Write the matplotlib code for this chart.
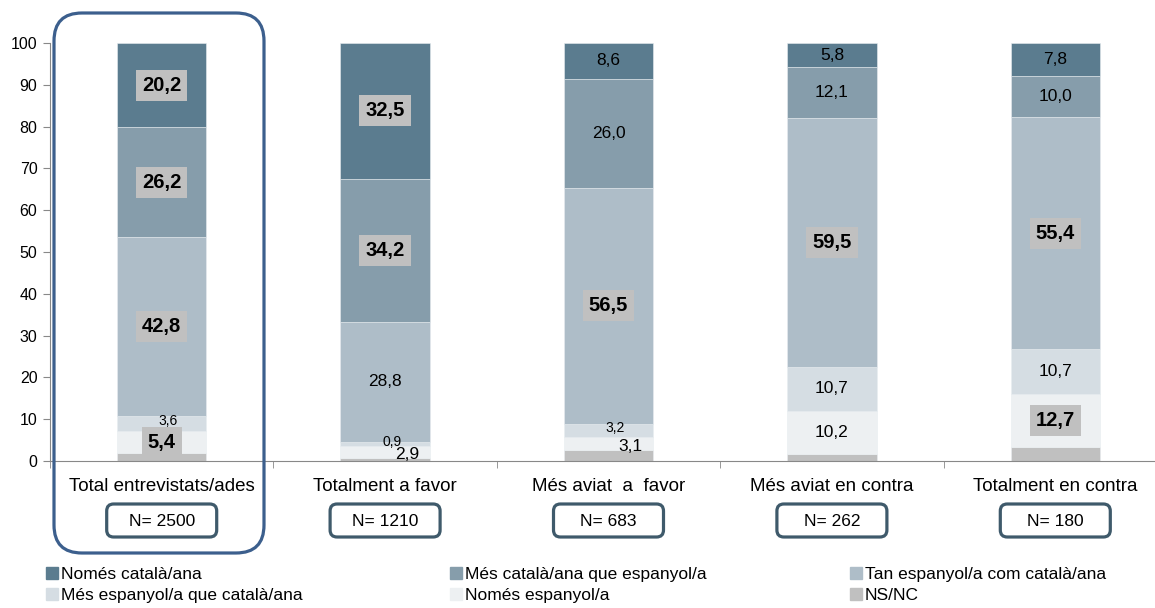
import matplotlib
matplotlib.use('Agg')
import matplotlib.pyplot as plt
import matplotlib.transforms as mtransforms
from matplotlib.patches import FancyBboxPatch, Patch
import numpy as np

plt.rcParams['font.family'] = ['Liberation Sans', 'DejaVu Sans']

# ----------------------------------------------------
# Dades
# ----------------------------------------------------
categories = ['Total entrevistats/ades', 'Totalment a favor', 'Més aviat  a  favor',
              'Més aviat en contra', 'Totalment en contra']
n_values = [2500, 1210, 683, 262, 180]

# de baix a dalt
series_names = ['NS/NC', 'Només espanyol/a', 'Més espanyol/a que català/ana',
                'Tan espanyol/a com català/ana', 'Més català/ana que espanyol/a',
                'Només català/ana']
ns_nc = [1.8, 0.7, 2.6, 1.7, 3.4]
nomes_esp = [5.4, 2.9, 3.1, 10.2, 12.7]
mes_esp = [3.6, 0.9, 3.2, 10.7, 10.7]
tan = [42.8, 28.8, 56.5, 59.5, 55.4]
mes_cat = [26.2, 34.2, 26.0, 12.1, 10.0]
nomes_cat = [20.2, 32.5, 8.6, 5.8, 7.8]

# etiquetes destacades (negreta amb fons gris)
bold_nomes_esp = [True, False, False, False, True]
bold_mes_esp = [False, False, False, False, False]
bold_tan = [True, False, True, True, True]
bold_mes_cat = [True, True, False, False, False]
bold_nomes_cat = [True, True, False, False, False]

colors = ['#c0c0c0', '#edf0f2', '#d5dde3', '#aebdc8', '#869dab', '#5b7c8f']

# ----------------------------------------------------
# Figura
# ----------------------------------------------------
W, H = 1155, 608
fig = plt.figure(figsize=(W / 100, H / 100), dpi=100)
ax = fig.add_axes([50 / W, 147 / H, 1117 / W, 418 / H])

x = np.arange(len(categories))
values = [ns_nc, nomes_esp, mes_esp, tan, mes_cat, nomes_cat]
bold_flags = [None, bold_nomes_esp, bold_mes_esp, bold_tan, bold_mes_cat, bold_nomes_cat]

bottom = np.zeros(len(categories))
for k, (vals, col) in enumerate(zip(values, colors)):
    vals = np.array(vals)
    ax.bar(x, vals, 0.40, bottom=bottom, color=col, edgecolor='#e8edf0', linewidth=0.4)
    if bold_flags[k] is not None:
        for i, v in enumerate(vals):
            ymid = bottom[i] + v / 2
            txt = f'{v:.1f}'.replace('.', ',')
            if bold_flags[k][i]:
                ax.text(x[i], ymid, txt, ha='center', va='center', fontsize=14.5,
                        fontweight='bold',
                        bbox=dict(boxstyle='square,pad=0.3', fc='#c0c0c0', ec='none'))
            elif v < 5:
                # segments petits
                if k == 2:
                    ax.text(x[i] + 0.03, ymid + 0.6, txt, ha='center', va='center', fontsize=10)
                else:
                    ax.text(x[i] + 0.1, ymid - 0.6, txt, ha='center', va='center', fontsize=12.5)
            else:
                ax.text(x[i], ymid, txt, ha='center', va='center', fontsize=12.5)
    bottom += vals

ax.set_xlim(-0.5, len(categories) - 0.5)
ax.set_ylim(0, 100)
ax.set_yticks(np.arange(0, 101, 10))
ax.set_xticks(x)
ax.set_xticklabels(categories, fontsize=13.5)
ax.set_xticks(np.arange(-0.5, len(categories), 1), minor=True)
ax.tick_params(axis='x', which='major', length=0, pad=12)
ax.tick_params(axis='x', which='minor', length=5, color='#888888', direction='out')
ax.tick_params(axis='y', length=5, color='#888888', labelsize=11.5, pad=4)
for s in ['top', 'right']:
    ax.spines[s].set_visible(False)
ax.spines['left'].set_color('#888888')
ax.spines['bottom'].set_color('#888888')

# ----------------------------------------------------
# Caixes arrodonides (coordenades en píxels)
# ----------------------------------------------------
pix = mtransforms.IdentityTransform()
big = FancyBboxPatch((54, H - 553), 210, 540,
                     boxstyle='round,pad=0,rounding_size=28',
                     fc='none', ec='#3c5f8d', lw=2.3, transform=pix)
fig.patches.append(big)

for i, n in enumerate(n_values):
    cx = 50 + (i + 0.5) * 223.4
    box = FancyBboxPatch((cx - 55, H - 537), 110, 33,
                         boxstyle='round,pad=0,rounding_size=7',
                         fc='white', ec='#3f5a6b', lw=2.3, transform=pix)
    fig.patches.append(box)
    fig.text(cx / W, (H - 521) / H, f'N= {n}', ha='center', va='center', fontsize=12.5)

# ----------------------------------------------------
# Llegenda
# ----------------------------------------------------
cols_order = [[5, 2], [4, 1], [3, 0]]
col_x = [46, 450, 850]
for cx, idxs in zip(col_x, cols_order):
    handles = [Patch(color=colors[j]) for j in idxs]
    labels = [series_names[j] for j in idxs]
    fig.legend(handles, labels, loc='upper left',
               bbox_to_anchor=(cx / W, (H - 567) / H), frameon=False,
               handlelength=0.7, handleheight=0.7,
               handletextpad=0.15, labelspacing=0.35, borderpad=0,
               borderaxespad=0, prop={'size': 12.5})

fig.savefig('out.png', dpi=100)
